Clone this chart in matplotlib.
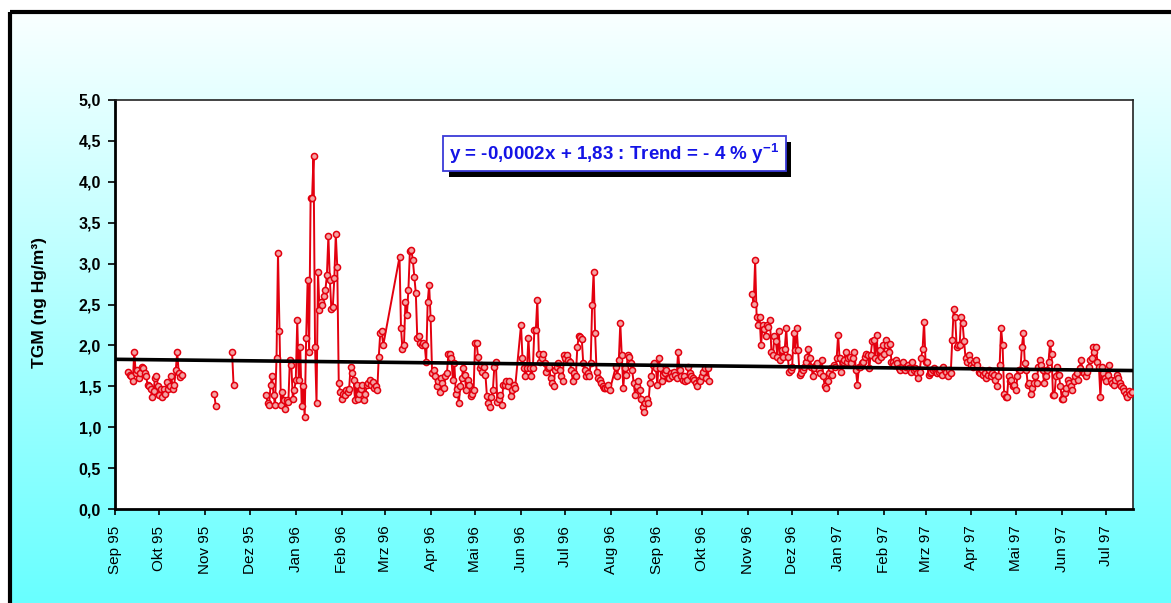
import numpy as np
import pandas as pd
import matplotlib
matplotlib.use("Agg")
import matplotlib.pyplot as plt
from matplotlib.patches import Rectangle

plt.rcParams["font.family"] = ["Liberation Sans", "DejaVu Sans"]
plt.rcParams["mathtext.fontset"] = "custom"
plt.rcParams["mathtext.rm"] = "Liberation Sans:bold"
plt.rcParams["mathtext.it"] = "Liberation Sans:bold"
plt.rcParams["mathtext.bf"] = "Liberation Sans:bold"

# daily TGM means (ng Hg/m3), one run of consecutive days per list
sep95 = [1.68, 1.64, 1.62, 1.56, 1.92, 1.66, 1.70, 1.60, 1.66, 1.74,
         1.72, 1.66, 1.62, 1.52, 1.50, 1.47, 1.37, 1.44, 1.60, 1.62,
         1.50, 1.39, 1.47, 1.37, 1.47, 1.40, 1.55, 1.47, 1.50, 1.62,
         1.47, 1.52, 1.70, 1.92, 1.66, 1.61, 1.64]
nov95_a = [1.40, 1.26]
nov95_b = [1.92, 1.52]
dec95_feb96 = [1.39, 1.30, 1.27, 1.52, 1.62, 1.39, 1.27, 1.84, 3.13, 2.17,
               1.27, 1.43, 1.33, 1.22, 1.33, 1.31, 1.82, 1.76, 1.35, 1.45,
               1.58, 2.31, 1.58, 1.98, 1.26, 1.50, 1.12, 2.09, 2.80, 1.92,
               3.80, 3.80, 4.32, 1.98, 1.29, 2.90, 2.43, 2.53, 2.49, 2.60,
               2.68, 2.86, 3.34, 2.80, 2.45, 2.47, 2.82, 3.36, 2.96, 1.54,
               1.43, 1.35, 1.41, 1.39, 1.45, 1.43, 1.47, 1.74, 1.66, 1.58,
               1.33, 1.52, 1.35, 1.41, 1.47, 1.52, 1.33, 1.41, 1.52, 1.54,
               1.58, 1.52, 1.55, 1.48, 1.50, 1.45, 1.86, 2.15, 2.17, 2.00]
mar_may96 = [3.08, 2.21, 1.96, 2.00, 2.53, 2.37, 2.68, 3.15, 3.17, 3.04,
             2.84, 2.64, 2.09, 2.12, 2.03, 2.00, 2.03, 2.00, 1.80, 2.53,
             2.74, 2.33, 1.66, 1.70, 1.62, 1.50, 1.56, 1.43, 1.60, 1.54,
             1.48, 1.62, 1.66, 1.90, 1.90, 1.84, 1.58, 1.78, 1.41, 1.47,
             1.29, 1.50, 1.60, 1.72, 1.64, 1.45, 1.58, 1.52, 1.38, 1.41,
             1.45, 2.03, 2.03, 1.86, 1.72, 1.76, 1.68, 1.74, 1.64, 1.38,
             1.29, 1.25, 1.37, 1.45, 1.74, 1.80, 1.31, 1.35, 1.39, 1.27,
             1.52, 1.52, 1.56, 1.50, 1.56, 1.38, 1.46, 1.52, 1.48]
jun_jul96 = [2.25, 1.84, 1.72, 1.62, 1.72, 2.09, 1.72, 1.62, 1.72, 2.19,
             2.19, 2.56, 1.90, 1.80, 1.84, 1.90, 1.78, 1.68, 1.72, 1.74,
             1.60, 1.54, 1.50, 1.70, 1.74, 1.78, 1.70, 1.62, 1.56, 1.88,
             1.84, 1.88, 1.82, 1.80, 1.70, 1.56, 1.66, 1.62, 1.98, 2.12,
             2.10, 2.08, 1.78, 1.70, 1.62, 1.66, 1.62, 1.78, 2.49, 2.90,
             2.15, 1.68, 1.60, 1.58, 1.54, 1.50, 1.48, 1.48, 1.48, 1.52,
             1.46]
aug_oct96 = [1.74, 1.62, 1.82, 2.27, 1.88, 1.48, 1.72, 1.64, 1.88, 1.86,
             1.78, 1.70, 1.54, 1.39, 1.50, 1.56, 1.46, 1.35, 1.25, 1.19,
             1.29, 1.35, 1.29, 1.54, 1.62, 1.76, 1.78, 1.72, 1.52, 1.84,
             1.72, 1.56, 1.64, 1.66, 1.70, 1.60, 1.60, 1.66, 1.62, 1.68,
             1.64, 1.60, 1.92, 1.70, 1.62, 1.58, 1.62, 1.56, 1.58, 1.74,
             1.66, 1.62, 1.60, 1.58, 1.54, 1.50, 1.58, 1.56, 1.62, 1.68,
             1.72, 1.60, 1.72, 1.56]
nov96_jan97 = [2.63, 2.51, 3.04, 2.35, 2.25, 2.35, 2.00, 2.25, 2.20, 2.11,
               2.25, 2.23, 2.31, 1.92, 1.88, 2.11, 2.05, 1.86, 2.17, 1.82,
               1.94, 1.86, 1.96, 2.21, 1.86, 1.68, 1.70, 1.74, 2.15, 1.94,
               2.21, 1.94, 1.64, 1.66, 1.70, 1.74, 1.80, 1.86, 1.96, 1.84,
               1.74, 1.62, 1.72, 1.76, 1.78, 1.70, 1.66, 1.82, 1.62, 1.50,
               1.48, 1.56, 1.66, 1.72, 1.64, 1.76, 1.74, 1.84, 2.13, 1.84,
               1.68, 1.80, 1.82, 1.92, 1.80, 1.84, 1.86, 1.78, 1.84, 1.92,
               1.70, 1.52, 1.74, 1.74, 1.78, 1.80, 1.86, 1.90, 1.88, 1.72,
               1.88, 2.05]
jan_jul97 = [2.07, 1.84, 2.13, 1.82, 1.94, 1.86, 2.00, 1.90, 2.07, 2.00,
             1.92, 2.02, 1.80, 1.80, 1.76, 1.82, 1.78, 1.72, 1.70, 1.74,
             1.80, 1.70, 1.74, 1.76, 1.72, 1.68, 1.80, 1.70, 1.72, 1.66,
             1.60, 1.68, 1.84, 1.96,
             2.29, 1.80, 1.80, 1.64, 1.66, 1.68, 1.70, 1.72, 1.68, 1.66,
             1.68, 1.70, 1.64, 1.74, 1.70, 1.68, 1.62, 1.70, 1.66, 2.07,
             2.45, 2.35, 1.98, 2.00, 2.00, 2.35, 2.27, 2.05, 1.84, 1.80,
             1.88, 1.82, 1.76, 1.74, 1.80, 1.82, 1.76, 1.68, 1.66, 1.70,
             1.64, 1.66, 1.60, 1.64, 1.70, 1.62, 1.66, 1.64, 1.58, 1.50,
             1.62, 1.76,
             2.21, 2.00, 1.41, 1.37, 1.37, 1.62, 1.56, 1.58, 1.50, 1.52,
             1.46, 1.62, 1.70, 1.70, 1.98,
             2.15, 1.78, 1.70, 1.52, 1.54, 1.41, 1.48, 1.54, 1.62, 1.54,
             1.74, 1.82, 1.76, 1.70, 1.54, 1.62, 1.70, 1.80,
             2.03, 1.90, 1.39, 1.39, 1.62, 1.74, 1.64, 1.50, 1.35, 1.35,
             1.42, 1.48, 1.58, 1.54, 1.50, 1.46, 1.56, 1.62, 1.66, 1.58,
             1.72, 1.82, 1.68, 1.66, 1.62, 1.68, 1.74, 1.82, 1.84, 1.98,
             1.92, 1.98, 1.80, 1.74,
             1.37, 1.74, 1.66, 1.60, 1.56, 1.64, 1.76, 1.58, 1.54, 1.52,
             1.58, 1.64, 1.60, 1.54, 1.50, 1.48, 1.44, 1.40, 1.37, 1.44,
             1.40, 1.43]

# (first day, values, starts a new line piece)
runs = [
    ("1995-09-10", sep95, True),
    ("1995-11-07", nov95_a, True),
    ("1995-11-19", nov95_b, True),
    ("1995-12-12", dec95_feb96, True),
    ("1996-03-11", mar_may96, False),
    ("1996-06-01", jun_jul96, False),
    ("1996-08-04", aug_oct96, False),
    ("1996-11-04", nov96_jan97, True),
    ("1997-01-25", jan_jul97, False),
]

trend_slope = -0.0002      # per day
trend_intercept = 1.83
axis_start, axis_end = "1995-09-01", "1997-07-19"
month_names = ["Jan", "Feb", "Mrz", "Apr", "Mai", "Jun",
               "Jul", "Aug", "Sep", "Okt", "Nov", "Dez"]
y_ticks = [0.0, 0.5, 1.0, 1.5, 2.0, 2.5, 3.0, 3.5, 4.0, 4.5, 5.0]
trend_label = "y = -0,0002x + 1,83 : Trend = - 4 % y$^{-1}$"

dates, vals = [], []
for start, values, new_piece in runs:
    days = pd.date_range(start, periods=len(values), freq="D")
    if new_piece and dates:
        dates.append(days[0] - pd.Timedelta(days=1))
        vals.append(np.nan)
    dates.extend(days)
    vals.extend(values)

W, H = 1171, 603
fig = plt.figure(figsize=(W / 100, H / 100), dpi=100)
fig.patch.set_facecolor("white")

# background: cyan gradient inside a black frame (pixel coordinates)
bg = fig.add_axes([0, 0, 1, 1], zorder=-10)
bg.set_xlim(0, W)
bg.set_ylim(H, 0)
bg.axis("off")
t = np.linspace(0, 1, 256)[:, None]
grad = np.dstack([0.98 - 0.58 * t, np.ones_like(t), np.ones_like(t)])
bg.imshow(grad, extent=[8, W + 10, H + 10, 10], aspect="auto", interpolation="bilinear")
bg.add_patch(Rectangle((10, 11.5), W + 20, H + 20, fill=False, edgecolor="black", lw=3))

ax = fig.add_axes([115 / W, 1 - 509 / H, (1133 - 115) / W, (509 - 100) / H])
ax.set_facecolor("white")

ax.plot(dates, vals, color="#e3000f", lw=1.4, marker="o", ms=4.4,
        mfc="#f3a3a3", mec="#e3000f", mew=1.1, zorder=3)

x0, x1 = pd.Timestamp(axis_start), pd.Timestamp(axis_end)
t_end = (x1 - x0).days
ax.plot([x0, x1], [trend_intercept, trend_intercept + trend_slope * t_end],
        color="black", lw=2.6, zorder=4)

ax.set_xlim(x0, x1)
ax.set_ylim(0, 5)

ticks = pd.date_range(axis_start, "1997-07-01", freq="MS")
ax.set_xticks(ticks)
ax.set_xticklabels([f"{month_names[d.month - 1]} {d.year % 100:02d}" for d in ticks],
                   rotation=90, fontsize=11)
ax.set_yticks(y_ticks)
ax.set_yticklabels([f"{v:.1f}".replace(".", ",") for v in y_ticks],
                   fontsize=11.5, fontweight="bold")
ax.tick_params(axis="x", direction="out", length=4, width=1.2, pad=8)
ax.tick_params(axis="y", direction="out", length=5, width=1.2, pad=5)

for side in ("left", "bottom"):
    ax.spines[side].set_linewidth(2)
for side in ("top", "right"):
    ax.spines[side].set_linewidth(1.2)
    ax.spines[side].set_color("#222222")

# overlay for label and equation box
top = fig.add_axes([0, 0, 1, 1], zorder=5)
top.set_xlim(0, W)
top.set_ylim(H, 0)
top.axis("off")
top.patch.set_alpha(0)

top.text(40, 302, "TGM (ng Hg/m³)", rotation=90, ha="center", va="center",
         fontsize=12.5, fontweight="bold")

top.add_patch(Rectangle((449, 142), 342, 35, facecolor="black", edgecolor="none"))
top.add_patch(Rectangle((443, 136), 343, 35, facecolor="white", edgecolor="#3a3ad8", lw=1.3))
top.text(614.5, 154, trend_label, ha="center", va="center",
         fontsize=13.5, fontweight="bold", color="#1414e6")

fig.savefig("out.png", dpi=100)
